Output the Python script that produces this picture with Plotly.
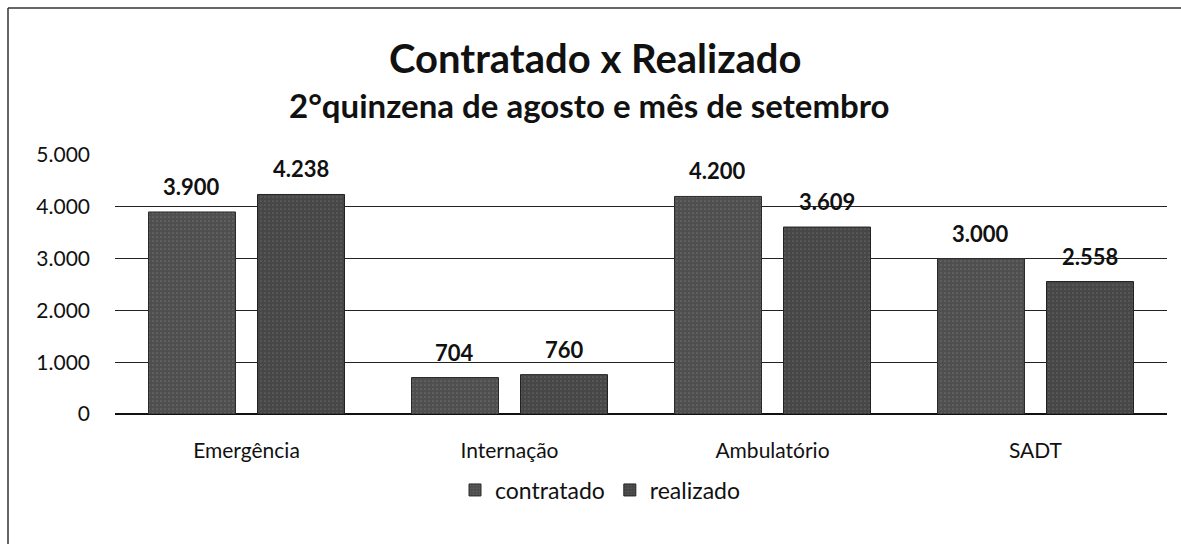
import plotly.graph_objects as go

categories = ["Emergência", "Internação", "Ambulatório", "SADT"]
contratado = [3900, 704, 4200, 3000]
realizado = [4238, 760, 3609, 2558]
series_names = ["contratado", "realizado"]
y_ticks = [0, 1000, 2000, 3000, 4000, 5000]
y_tick_labels = ["0", "1.000", "2.000", "3.000", "4.000", "5.000"]

FONT = "Lato"

L, R, T, B = 115, 14, 155, 130
W, H = 1181, 544
pw, ph = W - L - R, H - T - B

def px(x):
    return (x - L) / pw

def py(y):
    return (H - B - y) / ph

def fmt(v):
    return f"{v:,}".replace(",", ".")

fig = go.Figure()
fig.add_trace(go.Bar(
    name=series_names[0], x=categories, y=contratado,
    marker=dict(color="#4f4f4f", line=dict(color="#2a2a2a", width=1),
                pattern=dict(shape=".", fgcolor="#8a8a8a", size=4, solidity=0.15)),
))
fig.add_trace(go.Bar(
    name=series_names[1], x=categories, y=realizado,
    marker=dict(color="#474747", line=dict(color="#222222", width=1),
                pattern=dict(shape=".", fgcolor="#808080", size=4, solidity=0.15)),
))

bargap, bargroupgap = 0.171, 0.202
slot_px = pw / len(categories) * (1 - bargap) / 2
annotations = []
for vals, sign in ((contratado, -1), (realizado, 1)):
    for c, v in zip(categories, vals):
        annotations.append(dict(
            x=c, y=v, xref="x", yref="y", text=f"<b>{fmt(v)}</b>",
            showarrow=False, xanchor="center", yanchor="bottom",
            xshift=sign * slot_px / 2, yshift=10,
            font=dict(family=FONT, size=22, color="#111111")))

annotations += [
    dict(text="<b>Contratado x Realizado</b>", x=px(595), xref="paper", xanchor="center",
         y=py(58), yref="paper", yanchor="middle", showarrow=False,
         font=dict(family=FONT, size=40, color="#111111")),
    dict(text="<b>2°quinzena de agosto e mês de setembro</b>", x=px(589), xref="paper", xanchor="center",
         y=py(105), yref="paper", yanchor="middle", showarrow=False,
         font=dict(family=FONT, size=33, color="#111111")),
]

fig.update_layout(
    width=W, height=H,
    margin=dict(l=L, r=R, t=T, b=B),
    paper_bgcolor="white", plot_bgcolor="white",
    separators=",.",
    barmode="group", bargap=bargap, bargroupgap=bargroupgap,
    font=dict(family=FONT, color="#111111"),
    showlegend=True,
    legend=dict(orientation="h", x=px(600), xanchor="center", y=py(490), yanchor="middle",
                font=dict(family=FONT, size=23, color="#111111"),
                itemwidth=30, traceorder="normal"),
    xaxis=dict(showgrid=False, showline=False, ticks="", ticklabelstandoff=22,
               tickfont=dict(family=FONT, size=21, color="#111111")),
    yaxis=dict(range=[0, 5000], tickvals=y_ticks, ticktext=y_tick_labels,
               showgrid=True, gridcolor="#222222", gridwidth=1,
               zeroline=True, zerolinecolor="#111111", zerolinewidth=1.5,
               showline=False, ticks="", ticklabelstandoff=24,
               tickfont=dict(family=FONT, size=21, color="#111111")),
    annotations=annotations,
    shapes=[
        dict(type="line", xref="paper", yref="paper", x0=px(8), x1=px(1181), y0=py(8), y1=py(8),
             line=dict(color="#333333", width=1.5)),
        dict(type="line", xref="paper", yref="paper", x0=px(8), x1=px(8), y0=py(8), y1=py(544),
             line=dict(color="#333333", width=1.5)),
    ],
)

fig.write_html("out.html", config={"displayModeBar": False},
               post_script="document.body.style.margin='0';document.body.style.overflow='hidden';document.documentElement.style.overflow='hidden';")
